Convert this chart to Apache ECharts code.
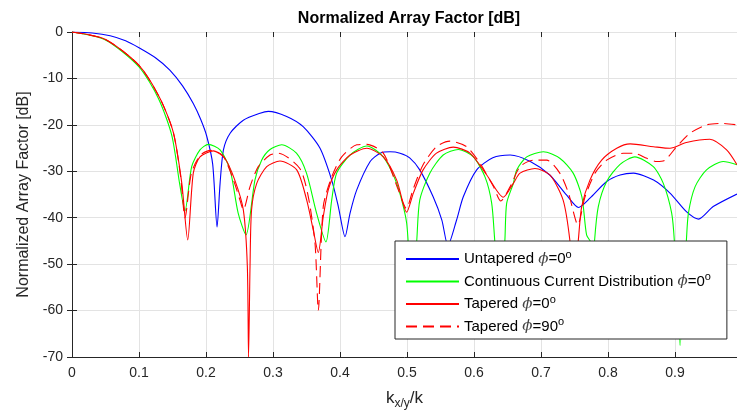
<!DOCTYPE html>
<html>
<head>
    <meta charset="utf-8">
    <title>Normalized Array Factor</title>
    <script src="https://cdn.jsdelivr.net/npm/echarts@6/dist/echarts.min.js"></script>
    <style>
        html, body { margin: 0; padding: 0; background: #fff; }
    </style>
</head>
<body>
    <div id="main" style="width: 737px;height:418px;"></div>
    <script type="text/javascript">
        // values (x = kx/y / k, y = dB)
        var untaperedX = [0, 0.03, 0.057, 0.08, 0.1, 0.125, 0.146, 0.165, 0.181, 0.192, 0.201, 0.21, 0.2165, 0.221, 0.226, 0.236, 0.2557, 0.2806, 0.293, 0.3204, 0.345, 0.37, 0.3876, 0.3975, 0.4075, 0.415, 0.425, 0.445, 0.46, 0.4746, 0.4896, 0.504, 0.519, 0.539, 0.552, 0.561, 0.574, 0.584, 0.604, 0.628, 0.654, 0.684, 0.713, 0.738, 0.756, 0.773, 0.798, 0.818, 0.838, 0.868, 0.8925, 0.917, 0.935, 0.957, 0.9925];
        var untaperedY = [0, -0.2, -0.8, -1.9, -3.4, -5.6, -8.2, -11.6, -15.4, -18.8, -22.4, -28.5, -42, -32.6, -25.4, -21.8, -19, -17.5, -17.1, -18.2, -20.4, -25, -31.9, -37.6, -44.1, -39, -34, -27.9, -26.1, -25.8, -26.1, -27.1, -29.7, -35.5, -40.5, -46, -40.5, -35.5, -29.7, -27.1, -26.5, -27.9, -30.8, -35.1, -37.8, -35.8, -32.2, -30.8, -30.4, -31.9, -34.7, -38.7, -40.3, -37.6, -34.9];

        var continuousX = [0, 0.05, 0.1, 0.129, 0.149, 0.161, 0.1687, 0.1786, 0.191, 0.2035, 0.221, 0.236, 0.248, 0.2597, 0.273, 0.283, 0.2955, 0.313, 0.335, 0.35, 0.365, 0.379, 0.3876, 0.395, 0.415, 0.44, 0.4646, 0.4846, 0.4995, 0.507, 0.5145, 0.519, 0.534, 0.554, 0.5766, 0.599, 0.6164, 0.6264, 0.631, 0.639, 0.646, 0.6487, 0.6587, 0.6637, 0.6786, 0.7035, 0.728, 0.748, 0.761, 0.768, 0.775, 0.778, 0.78, 0.7855, 0.798, 0.818, 0.84, 0.8676, 0.8825, 0.895, 0.899, 0.9075, 0.917, 0.92, 0.93, 0.947, 0.972, 0.9925];
        var continuousY = [0, -1.7, -7.5, -14.3, -22.3, -33, -38.5, -29, -25.4, -24.2, -25.4, -29.7, -39, -43.7, -31.9, -27.6, -25.3, -24.3, -26.1, -30.4, -39, -45.2, -36.2, -30.4, -26.5, -24.55, -26.9, -32.6, -41.2, -58, -45, -36.2, -30.4, -26.5, -25.3, -26.9, -31.2, -36.9, -45, -58, -45, -36.9, -32.6, -29.7, -26.9, -25.8, -27.2, -30.4, -35.5, -43.7, -45.5, -52, -44.8, -37.6, -32.2, -28.5, -26.9, -29, -32.6, -39, -45, -67.5, -44.8, -39, -33.3, -29.7, -27.9, -28.6];

        var taperedX = [0, 0.05, 0.1, 0.131, 0.151, 0.1637, 0.1727, 0.181, 0.191, 0.211, 0.228, 0.243, 0.2557, 0.2617, 0.2635, 0.2657, 0.268, 0.2757, 0.2906, 0.3104, 0.3354, 0.3503, 0.36, 0.3676, 0.375, 0.3825, 0.395, 0.415, 0.44, 0.4646, 0.4846, 0.4995, 0.5095, 0.524, 0.544, 0.569, 0.594, 0.619, 0.6437, 0.6587, 0.6687, 0.691, 0.7134, 0.733, 0.743, 0.7485, 0.7557, 0.7607, 0.773, 0.7905, 0.813, 0.833, 0.868, 0.8925, 0.917, 0.952, 0.977, 0.9925];
        var taperedY = [0, -1.6, -7.2, -14.2, -21.5, -32.4, -44.8, -30.4, -26.9, -25.6, -27.2, -31.9, -38.3, -50.5, -70, -50.5, -38.3, -32.6, -29, -27.8, -29.7, -36.2, -42.6, -47.5, -39.8, -34, -29.7, -26.5, -25.05, -26.9, -31.9, -38.8, -34.7, -29.7, -26.1, -24.8, -26.1, -30.8, -35.6, -32.6, -30.4, -29.4, -30.8, -36.2, -44.8, -55, -44.8, -37.6, -31.9, -27.6, -25.05, -24.1, -24.7, -25.05, -23.8, -23.1, -25.4, -28.6];

        var tapered90X = [0, 0.05, 0.1, 0.131, 0.151, 0.162, 0.1687, 0.178, 0.191, 0.207, 0.225, 0.24, 0.2507, 0.2557, 0.2657, 0.278, 0.2955, 0.308, 0.34, 0.3527, 0.3627, 0.3676, 0.375, 0.3876, 0.4025, 0.425, 0.44, 0.4646, 0.487, 0.499, 0.5095, 0.524, 0.544, 0.564, 0.589, 0.609, 0.629, 0.64, 0.654, 0.6687, 0.6886, 0.7085, 0.728, 0.741, 0.755, 0.7657, 0.7806, 0.798, 0.823, 0.838, 0.858, 0.8726, 0.885, 0.9025, 0.9224, 0.947, 0.972, 0.9925];
        var tapered90Y = [0, -1.6, -7.2, -14.2, -21.5, -31, -40, -30.5, -26.6, -25.5, -26.6, -31.5, -36.2, -38.3, -33.3, -29, -26.5, -26.1, -29.4, -35.5, -45.5, -60, -37.6, -31.2, -26.9, -24.3, -24.2, -26.1, -34, -38, -33.7, -28.6, -24.7, -23.5, -24.7, -28.3, -33.3, -36.4, -33.3, -29, -27.6, -27.6, -30.4, -34.7, -41.5, -35.5, -30.4, -27.6, -26.1, -26.1, -27.2, -27.9, -27.6, -24.7, -21.8, -20, -19.7, -20];

        var seriesNames = ['Untapered ϕ=0°', 'Continuous Current Distribution ϕ=0°', 'Tapered ϕ=0°', 'Tapered ϕ=90°'];
        var seriesColors = ['#0000ff', '#00ff00', '#ff0000', '#ff0000'];

        function zip(xs, ys) {
            var out = [];
            for (var i = 0; i < xs.length; i++) out.push([xs[i], ys[i]]);
            return out;
        }

        var font = 'Liberation Sans, Arial, sans-serif';
        var axisColor = '#262626';
        var gridColor = '#e3e3e3';

        var myChart = echarts.init(document.getElementById('main'), null, {renderer: 'canvas'});

        function lineSeries(i, xs, ys, dashed) {
            return {
                name: seriesNames[i],
                type: 'line',
                data: zip(xs, ys),
                symbol: 'none',
                smooth: 0.25,
                color: seriesColors[i],
                lineStyle: { color: seriesColors[i], width: 1.1, type: dashed ? [11, 6] : 'solid' }
            };
        }

        var option = {
            animation: false,
            backgroundColor: '#ffffff',
            title: {
                text: 'Normalized Array Factor [dB]',
                left: 404,
                textAlign: 'center',
                top: 6,
                textStyle: { fontFamily: font, fontSize: 16, fontWeight: 'bold', color: '#000' }
            },
            grid: { left: 72, right: 0, top: 32, bottom: 61, containLabel: false },
            legend: {
                orient: 'vertical',
                left: 395,
                top: 241,
                padding: [8, 16, 5, 10],
                itemWidth: 53,
                itemHeight: 14,
                itemGap: 5,
                itemStyle: { opacity: 0 },
                backgroundColor: '#ffffff',
                borderColor: axisColor,
                borderWidth: 1,
                borderRadius: 0,
                textStyle: {
                    fontFamily: font, fontSize: 15, color: '#000',
                    rich: {
                        p: { fontFamily: 'DejaVu Serif', fontStyle: 'italic', fontSize: 15, color: '#444' },
                        s: { fontFamily: font, fontSize: 11, color: '#000', padding: [0, 0, 9, 0] }
                    }
                },
                formatter: function (name) {
                    return name.replace('ϕ', '{p|ϕ}').replace('°', '{s|o}');
                },
                data: seriesNames
            },
            xAxis: [{
                type: 'value',
                min: 0,
                max: 0.9925,
                interval: 0.1,
                name: '{a|k}{b|x/y}{a|/k}',
                nameLocation: 'middle',
                nameGap: 30,
                nameTextStyle: {
                    rich: {
                        a: { fontFamily: font, fontSize: 17, color: axisColor },
                        b: { fontFamily: font, fontSize: 12, color: axisColor, padding: [11, 0, 0, 0] }
                    }
                },
                axisLine: { show: true, onZero: false, lineStyle: { color: axisColor, width: 1 } },
                axisTick: { show: true, inside: true, length: 5, lineStyle: { color: axisColor } },
                axisLabel: { fontFamily: font, fontSize: 14, color: axisColor, margin: 9, showMaxLabel: false,
                    formatter: function (v) { return String(Math.round(v * 10) / 10); } },
                splitLine: { show: true, lineStyle: { color: gridColor, width: 1 } }
            }, {
                type: 'value',
                position: 'top',
                min: 0,
                max: 0.9925,
                interval: 0.1,
                axisLine: { show: true, onZero: false, lineStyle: { color: gridColor, width: 1 } },
                axisTick: { show: true, inside: true, length: 5, lineStyle: { color: axisColor } },
                axisLabel: { show: false },
                splitLine: { show: false }
            }],
            yAxis: [{
                type: 'value',
                min: -70,
                max: 0,
                interval: 10,
                name: 'Normalized Array Factor [dB]',
                nameLocation: 'middle',
                nameGap: 35,
                nameTextStyle: { fontFamily: font, fontSize: 16, color: axisColor },
                axisLine: { show: true, onZero: false, lineStyle: { color: axisColor, width: 1 } },
                axisTick: { show: true, inside: true, length: 5, lineStyle: { color: axisColor } },
                axisLabel: { fontFamily: font, fontSize: 14, color: axisColor, margin: 9 },
                splitLine: { show: true, lineStyle: { color: gridColor, width: 1 } }
            }, {
                type: 'value',
                position: 'right',
                min: -70,
                max: 0,
                interval: 10,
                axisLine: { show: false },
                axisTick: { show: true, inside: true, length: 5, lineStyle: { color: axisColor } },
                axisLabel: { show: false },
                splitLine: { show: false }
            }],
            series: [
                lineSeries(0, untaperedX, untaperedY, false),
                lineSeries(1, continuousX, continuousY, false),
                lineSeries(2, taperedX, taperedY, false),
                lineSeries(3, tapered90X, tapered90Y, true)
            ]
        };

        myChart.setOption(option);
    </script>
</body>
</html>
